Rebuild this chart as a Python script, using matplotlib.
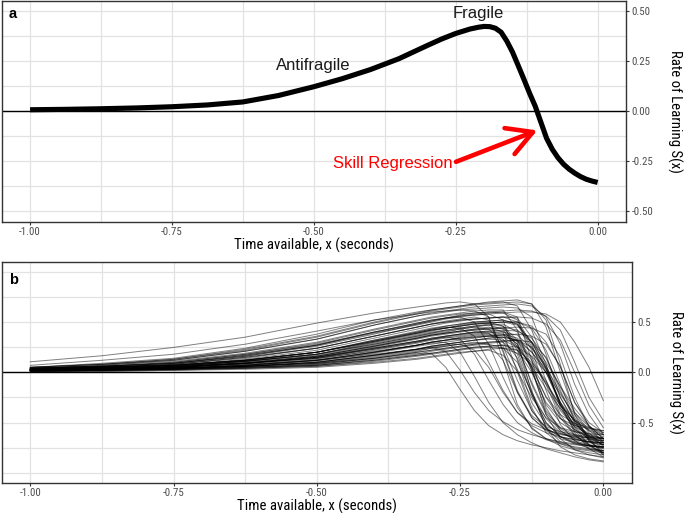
import matplotlib
matplotlib.use("Agg")
import matplotlib.pyplot as plt
import matplotlib.font_manager as fm
import numpy as np

# ---------------- data ----------------
# panel a: single rate-of-learning curve
a_x = [-1.0, -0.9375, -0.875, -0.8125, -0.75, -0.6875, -0.625, -0.5625, -0.5, -0.45,
       -0.4, -0.35, -0.3, -0.275, -0.25, -0.225, -0.21, -0.2, -0.19, -0.18,
       -0.17, -0.16, -0.15, -0.14, -0.13, -0.12, -0.11, -0.1, -0.09, -0.08,
       -0.07, -0.06, -0.05, -0.04, -0.03, -0.02, -0.01, 0.0]
a_y = [0.007, 0.009, 0.012, 0.016, 0.022, 0.031, 0.046, 0.078, 0.122, 0.162,
       0.208, 0.262, 0.328, 0.36, 0.388, 0.41, 0.419, 0.423, 0.422, 0.414,
       0.394, 0.35, 0.295, 0.228, 0.16, 0.09, 0.025, -0.055, -0.135, -0.19,
       -0.232, -0.265, -0.29, -0.31, -0.327, -0.34, -0.349, -0.356]

# panel b: family of curves sampled at shared x positions
b_x = [-1.0, -0.875, -0.75, -0.625, -0.5, -0.4, -0.325, -0.3, -0.275, -0.25,
       -0.225, -0.2, -0.175, -0.15, -0.125, -0.1, -0.075, -0.05, -0.025, 0.0]
b_curves = [
    [0.02, 0.03, 0.04, 0.06, 0.09, 0.14, 0.19, 0.19, 0.05, -0.17, -0.38, -0.53, -0.62, -0.68, -0.72, -0.75, -0.78, -0.80, -0.82, -0.84],
    [0.02, 0.03, 0.05, 0.08, 0.12, 0.18, 0.23, 0.25, 0.21, 0.02, -0.20, -0.38, -0.49, -0.57, -0.62, -0.66, -0.69, -0.71, -0.73, -0.74],
    [0.03, 0.04, 0.06, 0.09, 0.14, 0.21, 0.27, 0.29, 0.30, 0.20, -0.04, -0.30, -0.50, -0.62, -0.70, -0.76, -0.80, -0.84, -0.87, -0.89],
    [0.02, 0.03, 0.05, 0.09, 0.15, 0.24, 0.31, 0.33, 0.35, 0.33, 0.18, -0.08, -0.32, -0.50, -0.60, -0.67, -0.71, -0.74, -0.76, -0.78],
    [0.03, 0.05, 0.07, 0.12, 0.20, 0.31, 0.40, 0.43, 0.45, 0.44, 0.36, 0.10, -0.18, -0.40, -0.53, -0.60, -0.64, -0.67, -0.69, -0.70],
    [0.04, 0.06, 0.09, 0.16, 0.26, 0.38, 0.48, 0.51, 0.54, 0.55, 0.50, 0.28, -0.05, -0.35, -0.55, -0.66, -0.73, -0.77, -0.80, -0.82],
    [0.02, 0.03, 0.04, 0.06, 0.10, 0.17, 0.23, 0.25, 0.27, 0.28, 0.22, 0.05, -0.20, -0.40, -0.51, -0.57, -0.61, -0.63, -0.65, -0.66],
    [0.105, 0.165, 0.248, 0.35, 0.49, 0.59, 0.65, 0.67, 0.69, 0.70, 0.68, 0.55, 0.20, -0.20, -0.45, -0.58, -0.66, -0.70, -0.73, -0.75],
    [0.02, 0.03, 0.05, 0.09, 0.15, 0.23, 0.30, 0.33, 0.36, 0.38, 0.40, 0.39, 0.26, -0.08, -0.38, -0.55, -0.64, -0.69, -0.73, -0.75],
    [0.03, 0.05, 0.07, 0.12, 0.20, 0.30, 0.38, 0.41, 0.44, 0.47, 0.49, 0.50, 0.46, 0.25, -0.10, -0.40, -0.56, -0.64, -0.69, -0.72],
    [0.02, 0.03, 0.04, 0.06, 0.10, 0.17, 0.23, 0.26, 0.28, 0.30, 0.32, 0.33, 0.32, 0.25, 0.06, -0.25, -0.46, -0.57, -0.64, -0.68],
    [0.04, 0.06, 0.10, 0.18, 0.28, 0.40, 0.48, 0.51, 0.54, 0.57, 0.59, 0.60, 0.59, 0.52, 0.28, -0.08, -0.42, -0.62, -0.73, -0.80],
    [0.01, 0.02, 0.03, 0.04, 0.06, 0.11, 0.16, 0.18, 0.20, 0.22, 0.24, 0.25, 0.24, 0.19, 0.08, -0.10, -0.33, -0.47, -0.55, -0.60],
    [0.02, 0.03, 0.05, 0.10, 0.16, 0.26, 0.34, 0.37, 0.39, 0.41, 0.43, 0.44, 0.45, 0.42, 0.30, 0.10, -0.14, -0.36, -0.53, -0.66],
    [0.03, 0.05, 0.07, 0.13, 0.22, 0.34, 0.43, 0.46, 0.49, 0.51, 0.53, 0.54, 0.55, 0.50, 0.25, 0.00, -0.30, -0.55, -0.72, -0.82],
    [0.02, 0.03, 0.04, 0.07, 0.12, 0.20, 0.27, 0.30, 0.32, 0.35, 0.37, 0.38, 0.33, 0.14, -0.22, -0.50, -0.64, -0.71, -0.75, -0.78],
    [0.05, 0.09, 0.14, 0.24, 0.38, 0.52, 0.60, 0.62, 0.64, 0.66, 0.68, 0.69, 0.70, 0.66, 0.42, 0.08, -0.35, -0.57, -0.66, -0.72],
    [0.02, 0.03, 0.04, 0.06, 0.09, 0.15, 0.21, 0.24, 0.26, 0.28, 0.30, 0.28, 0.12, -0.20, -0.43, -0.54, -0.59, -0.62, -0.64, -0.65],
    [0.03, 0.04, 0.06, 0.11, 0.18, 0.28, 0.36, 0.39, 0.42, 0.44, 0.46, 0.48, 0.46, 0.32, 0.02, -0.32, -0.50, -0.59, -0.63, -0.66],
    [0.02, 0.03, 0.04, 0.07, 0.11, 0.19, 0.26, 0.28, 0.30, 0.32, 0.34, 0.36, 0.35, 0.26, 0.06, -0.16, -0.36, -0.52, -0.64, -0.72],
    [0.04, 0.07, 0.11, 0.19, 0.30, 0.43, 0.52, 0.55, 0.57, 0.59, 0.61, 0.62, 0.62, 0.42, 0.05, -0.42, -0.66, -0.77, -0.82, -0.85],
    [0.02, 0.03, 0.05, 0.09, 0.14, 0.24, 0.31, 0.34, 0.36, 0.38, 0.40, 0.41, 0.42, 0.41, 0.34, 0.14, -0.15, -0.40, -0.54, -0.62],
    [0.03, 0.05, 0.07, 0.12, 0.20, 0.32, 0.40, 0.43, 0.46, 0.48, 0.50, 0.51, 0.52, 0.48, 0.30, 0.03, -0.30, -0.54, -0.67, -0.75],
    [0.01, 0.02, 0.03, 0.05, 0.07, 0.13, 0.18, 0.21, 0.23, 0.25, 0.27, 0.28, 0.24, 0.10, -0.20, -0.46, -0.60, -0.66, -0.69, -0.70],
    [0.03, 0.04, 0.06, 0.11, 0.17, 0.27, 0.35, 0.38, 0.40, 0.43, 0.45, 0.43, 0.30, 0.03, -0.35, -0.60, -0.71, -0.76, -0.78, -0.80],
    [0.04, 0.06, 0.09, 0.17, 0.27, 0.39, 0.47, 0.50, 0.53, 0.55, 0.57, 0.58, 0.52, 0.12, -0.30, -0.52, -0.61, -0.65, -0.67, -0.68],
    [0.02, 0.03, 0.04, 0.06, 0.10, 0.17, 0.23, 0.26, 0.28, 0.30, 0.32, 0.34, 0.35, 0.32, 0.20, 0.03, -0.32, -0.60, -0.76, -0.84],
    [0.05, 0.08, 0.12, 0.21, 0.33, 0.47, 0.56, 0.58, 0.60, 0.62, 0.63, 0.64, 0.65, 0.64, 0.55, 0.18, -0.25, -0.50, -0.63, -0.70],
    [0.02, 0.03, 0.05, 0.09, 0.14, 0.23, 0.30, 0.33, 0.35, 0.37, 0.39, 0.40, 0.38, 0.28, 0.04, -0.24, -0.42, -0.51, -0.55, -0.58],
    [0.02, 0.02, 0.03, 0.05, 0.08, 0.14, 0.20, 0.22, 0.24, 0.26, 0.28, 0.30, 0.31, 0.32, 0.25, 0.07, -0.25, -0.50, -0.65, -0.72],
    [0.03, 0.05, 0.08, 0.15, 0.24, 0.36, 0.45, 0.48, 0.51, 0.53, 0.55, 0.52, 0.22, -0.18, -0.45, -0.57, -0.62, -0.64, -0.65, -0.66],
    [0.03, 0.04, 0.06, 0.11, 0.18, 0.28, 0.36, 0.39, 0.41, 0.43, 0.45, 0.47, 0.43, 0.22, -0.18, -0.55, -0.74, -0.82, -0.86, -0.88],
    [0.02, 0.03, 0.04, 0.07, 0.12, 0.20, 0.27, 0.30, 0.32, 0.34, 0.36, 0.37, 0.38, 0.34, 0.20, 0.00, -0.22, -0.42, -0.60, -0.74],
    [0.03, 0.05, 0.07, 0.12, 0.20, 0.31, 0.39, 0.42, 0.44, 0.46, 0.48, 0.49, 0.50, 0.50, 0.46, 0.30, 0.05, -0.30, -0.50, -0.60],
    [0.01, 0.01, 0.02, 0.03, 0.05, 0.09, 0.13, 0.15, 0.17, 0.19, 0.21, 0.22, 0.17, 0.01, -0.25, -0.45, -0.55, -0.59, -0.61, -0.62],
    [0.01, 0.02, 0.03, 0.05, 0.07, 0.12, 0.17, 0.19, 0.21, 0.23, 0.25, 0.26, 0.27, 0.25, 0.16, 0.00, -0.32, -0.58, -0.72, -0.80],
    [0.07, 0.12, 0.18, 0.28, 0.41, 0.52, 0.58, 0.60, 0.61, 0.62, 0.61, 0.55, 0.12, -0.32, -0.56, -0.66, -0.70, -0.72, -0.73, -0.74],
    [0.05, 0.08, 0.13, 0.23, 0.36, 0.50, 0.59, 0.62, 0.64, 0.66, 0.68, 0.70, 0.71, 0.72, 0.68, 0.45, 0.00, -0.40, -0.58, -0.68],
    [0.04, 0.07, 0.12, 0.21, 0.33, 0.47, 0.56, 0.59, 0.61, 0.63, 0.65, 0.66, 0.67, 0.68, 0.66, 0.55, 0.28, -0.12, -0.42, -0.62],
    [0.03, 0.05, 0.08, 0.15, 0.24, 0.36, 0.45, 0.48, 0.50, 0.52, 0.53, 0.54, 0.55, 0.55, 0.54, 0.48, 0.32, 0.00, -0.33, -0.55],
    [0.04, 0.06, 0.09, 0.17, 0.27, 0.40, 0.49, 0.52, 0.54, 0.56, 0.57, 0.58, 0.59, 0.60, 0.60, 0.58, 0.50, 0.30, 0.05, -0.28],
    [0.02, 0.03, 0.05, 0.10, 0.16, 0.26, 0.34, 0.37, 0.39, 0.41, 0.42, 0.43, 0.44, 0.45, 0.44, 0.38, 0.15, -0.25, -0.54, -0.70],
    [0.04, 0.06, 0.10, 0.18, 0.29, 0.42, 0.51, 0.54, 0.56, 0.58, 0.59, 0.60, 0.61, 0.62, 0.61, 0.56, 0.42, 0.10, -0.25, -0.48],
    [0.03, 0.05, 0.07, 0.12, 0.20, 0.31, 0.39, 0.42, 0.44, 0.46, 0.48, 0.49, 0.50, 0.50, 0.44, 0.22, -0.12, -0.48, -0.68, -0.78],
    [0.02, 0.03, 0.04, 0.07, 0.12, 0.20, 0.27, 0.30, 0.32, 0.34, 0.35, 0.36, 0.37, 0.38, 0.36, 0.28, 0.06, -0.30, -0.53, -0.66],
    [0.05, 0.08, 0.13, 0.22, 0.35, 0.49, 0.58, 0.61, 0.63, 0.65, 0.67, 0.68, 0.69, 0.70, 0.68, 0.52, 0.08, -0.42, -0.68, -0.80],
    [0.02, 0.03, 0.05, 0.09, 0.15, 0.24, 0.31, 0.34, 0.36, 0.38, 0.40, 0.41, 0.41, 0.28, -0.12, -0.42, -0.58, -0.66, -0.70, -0.72],
    [0.02, 0.02, 0.04, 0.06, 0.10, 0.17, 0.23, 0.26, 0.28, 0.30, 0.32, 0.34, 0.35, 0.32, 0.15, -0.12, -0.45, -0.63, -0.72, -0.76],
    [0.03, 0.04, 0.06, 0.11, 0.18, 0.29, 0.37, 0.40, 0.42, 0.44, 0.46, 0.47, 0.48, 0.40, 0.02, -0.38, -0.55, -0.62, -0.66, -0.68],
    [0.01, 0.02, 0.03, 0.05, 0.08, 0.14, 0.20, 0.22, 0.24, 0.26, 0.28, 0.29, 0.30, 0.18, -0.22, -0.50, -0.64, -0.70, -0.73, -0.74],
    [0.03, 0.05, 0.08, 0.14, 0.24, 0.36, 0.45, 0.48, 0.50, 0.52, 0.53, 0.54, 0.55, 0.54, 0.35, 0.05, -0.32, -0.52, -0.61, -0.66],
    [0.02, 0.03, 0.05, 0.08, 0.13, 0.22, 0.29, 0.32, 0.34, 0.36, 0.38, 0.39, 0.40, 0.37, 0.24, 0.05, -0.20, -0.45, -0.66, -0.82],
    [0.01, 0.02, 0.03, 0.04, 0.07, 0.12, 0.17, 0.19, 0.21, 0.23, 0.25, 0.26, 0.27, 0.22, 0.00, -0.30, -0.46, -0.53, -0.56, -0.58],
    [0.02, 0.03, 0.05, 0.09, 0.16, 0.26, 0.34, 0.37, 0.39, 0.41, 0.43, 0.45, 0.40, 0.00, -0.38, -0.56, -0.64, -0.67, -0.69, -0.70],
    [0.03, 0.04, 0.07, 0.12, 0.20, 0.32, 0.41, 0.44, 0.46, 0.48, 0.50, 0.51, 0.52, 0.48, 0.22, -0.18, -0.52, -0.68, -0.76, -0.80],
    [0.02, 0.03, 0.04, 0.07, 0.12, 0.20, 0.27, 0.30, 0.32, 0.33, 0.35, 0.36, 0.37, 0.31, 0.12, -0.12, -0.33, -0.48, -0.58, -0.64],
    [0.02, 0.02, 0.03, 0.06, 0.09, 0.16, 0.22, 0.24, 0.26, 0.28, 0.29, 0.30, 0.31, 0.32, 0.30, 0.15, -0.18, -0.48, -0.63, -0.70],
    [0.04, 0.06, 0.09, 0.16, 0.27, 0.40, 0.49, 0.52, 0.54, 0.56, 0.58, 0.59, 0.60, 0.55, 0.12, -0.35, -0.58, -0.68, -0.72, -0.74],
    [0.01, 0.01, 0.02, 0.04, 0.06, 0.10, 0.14, 0.16, 0.18, 0.20, 0.21, 0.23, 0.24, 0.22, 0.10, -0.08, -0.38, -0.54, -0.62, -0.66],
    [0.02, 0.03, 0.05, 0.09, 0.15, 0.25, 0.33, 0.36, 0.38, 0.40, 0.42, 0.43, 0.44, 0.30, -0.20, -0.55, -0.69, -0.75, -0.77, -0.78],
    [0.03, 0.04, 0.06, 0.11, 0.18, 0.30, 0.39, 0.42, 0.44, 0.46, 0.48, 0.49, 0.50, 0.47, 0.30, 0.04, -0.30, -0.48, -0.57, -0.62],
]

x_ticks = [-1.0, -0.75, -0.5, -0.25, 0.0]
x_tick_labels = ["-1.00", "-0.75", "-0.50", "-0.25", "0.00"]
a_y_ticks = [-0.5, -0.25, 0.0, 0.25, 0.5]
a_y_tick_labels = ["-0.50", "-0.25", "0.00", "0.25", "0.50"]
b_y_ticks = [-0.5, 0.0, 0.5]
b_y_tick_labels = ["-0.5", "0.0", "0.5"]
x_title = "Time available, x (seconds)"
y_title = "Rate of Learning S(x)"

# ---------------- fonts ----------------
names = {f.name for f in fm.fontManager.ttflist}
if "Liberation Sans Narrow" in names:
    narrow_kw = dict(family="Liberation Sans Narrow")
elif "Roboto Condensed" in names:
    narrow_kw = dict(family="Roboto Condensed")
else:
    narrow_kw = dict(family="DejaVu Sans", stretch="condensed")
regular_family = "Liberation Sans" if "Liberation Sans" in names else "DejaVu Sans"

W, H = 685, 513
fig = plt.figure(figsize=(W / 100, H / 100), dpi=100)

def px_axes(l, t, r, b):
    return fig.add_axes([l / W, 1 - b / H, (r - l) / W, (b - t) / H])

ax_a = px_axes(1.7, 1.0, 626.0, 221.7)
ax_b = px_axes(1.7, 261.7, 632.0, 482.7)

grid_col = "#e2e2e2"

def style(ax, ylim, yticks, ylabels, ygrid):
    ax.set_xlim(-1.05, 0.05)
    ax.set_ylim(*ylim)
    for gx in np.arange(-1.0, 0.001, 0.125):
        ax.axvline(gx, color=grid_col, lw=0.9, zorder=0)
    for gy in ygrid:
        ax.axhline(gy, color=grid_col, lw=0.9, zorder=0)
    ax.axhline(0, color="black", lw=1.0, zorder=3)
    ax.set_xticks(x_ticks)
    ax.set_xticklabels(x_tick_labels)
    ax.yaxis.tick_right()
    ax.yaxis.set_label_position("right")
    ax.set_yticks(yticks)
    ax.set_yticklabels(ylabels)
    ax.tick_params(axis="both", length=2.5, width=0.8, color="#333333",
                   labelcolor="#4d4d4d", labelsize=7.8, pad=1.5)
    for lab in ax.get_xticklabels() + ax.get_yticklabels():
        lab.set(**narrow_kw)
    for sp in ax.spines.values():
        sp.set_color("#333333")
        sp.set_linewidth(1.0)
        sp.set_zorder(5)
    ax.set_xlabel(x_title, fontsize=10.6, labelpad=0.5, **narrow_kw)
    ax.set_ylabel(y_title, fontsize=10.6, rotation=270, labelpad=21, **narrow_kw)

style(ax_a, (-0.552, 0.55), a_y_ticks, a_y_tick_labels, np.arange(-0.5, 0.501, 0.125))
style(ax_b, (-1.097, 1.1), b_y_ticks, b_y_tick_labels, np.arange(-1.0, 1.001, 0.25))

# panel a
ax_a.plot(a_x, a_y, color="black", lw=3.7, solid_capstyle="butt",
          solid_joinstyle="round", zorder=4)
ax_a.text(-0.5007, 0.203, "Antifragile", ha="center", va="baseline",
          fontsize=12, family=regular_family, color="#1a1a1a")
ax_a.text(-0.2107, 0.465, "Fragile", ha="center", va="baseline",
          fontsize=12, family=regular_family, color="#1a1a1a")
ax_a.text(-0.360, -0.283, "Skill Regression", ha="center", va="baseline",
          fontsize=12, family=regular_family, color="red")
ax_a.annotate("", xy=(-0.1063, -0.096), xytext=(-0.2496, -0.253),
              arrowprops=dict(arrowstyle="->,head_length=0.9,head_width=0.5",
                              color="red", lw=3.3, mutation_scale=20,
                              shrinkA=0, shrinkB=0), zorder=6)
ax_a.text(7 / 624.3, 0.925, "a", transform=ax_a.transAxes, fontsize=10.5,
          fontweight="bold", family=regular_family, ha="left", va="baseline")

# panel b
for ys in b_curves:
    ax_b.plot(b_x, ys, color="black", lw=0.7, alpha=0.5, zorder=4)
ax_b.text(7 / 630.3, 0.9, "b", transform=ax_b.transAxes, fontsize=10.5,
          fontweight="bold", family=regular_family, ha="left", va="baseline")

fig.savefig("out.png", dpi=100)
